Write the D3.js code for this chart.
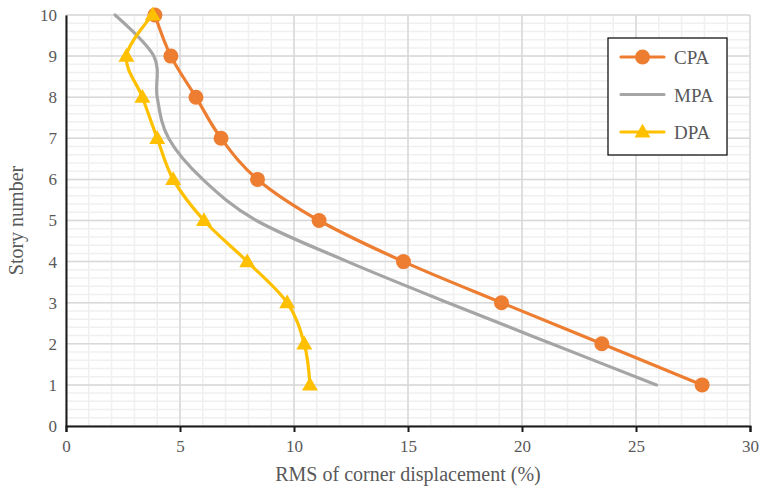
<!DOCTYPE html>
<html>
<head>
<meta charset="utf-8">
<script src="https://cdn.jsdelivr.net/npm/d3@7"></script>
<style>
  body { margin: 0; background: #fff; }
  svg, svg text { font-family: "Liberation Serif", "Times New Roman", serif; }
</style>
</head>
<body>
<div id="chart"></div>
<script>
// story numbers and RMS values (%)
var stories = [1, 2, 3, 4, 5, 6, 7, 8, 9, 10];
var cpa = [27.9, 23.5, 19.1, 14.8, 11.1, 8.4, 6.8, 5.7, 4.6, 3.9];
var mpa = [25.9, 21.3, 16.75, 12.35, 8.35, 6.0, 4.5, 4.0, 3.85, 2.15];
var dpa = [10.7, 10.45, 9.7, 7.95, 6.05, 4.7, 4.0, 3.35, 2.65, 3.8];
var xTicks = [0, 5, 10, 15, 20, 25, 30];
var yTicks = [0, 1, 2, 3, 4, 5, 6, 7, 8, 9, 10];

var series = [
    { name: "CPA", values: cpa, color: "#ED7D31", marker: "circle" },
    { name: "MPA", values: mpa, color: "#A5A5A5", marker: null },
    { name: "DPA", values: dpa, color: "#FFC000", marker: "triangle" }
];

var serif = "'Liberation Serif', 'Times New Roman', serif";
var width = 760, height = 491;
var margin = { top: 15, right: 10, bottom: 65, left: 66 };
var w = width - margin.left - margin.right;
var h = height - margin.top - margin.bottom;

var svg = d3.select("#chart").append("svg")
    .attr("width", width)
    .attr("height", height);
var g = svg.append("g")
    .attr("transform", "translate(" + margin.left + "," + margin.top + ")");

var x = d3.scaleLinear().domain([0, 30]).range([0, w]);
var y = d3.scaleLinear().domain([0, 10]).range([h, 0]);

// minor grid
g.append("g").selectAll("line")
    .data(d3.range(0, 30.01, 1))
    .enter().append("line")
    .attr("x1", function (d) { return x(d); }).attr("x2", function (d) { return x(d); })
    .attr("y1", 0).attr("y2", h)
    .attr("stroke", "#F0F0F0").attr("stroke-width", 1.5);
g.append("g").selectAll("line")
    .data(d3.range(0, 10.01, 0.2))
    .enter().append("line")
    .attr("y1", function (d) { return y(d); }).attr("y2", function (d) { return y(d); })
    .attr("x1", 0).attr("x2", w)
    .attr("stroke", "#F0F0F0").attr("stroke-width", 1.5);

// major grid
g.append("g").selectAll("line")
    .data(xTicks)
    .enter().append("line")
    .attr("x1", function (d) { return x(d); }).attr("x2", function (d) { return x(d); })
    .attr("y1", 0).attr("y2", h)
    .attr("stroke", "#D9D9D9").attr("stroke-width", 1.5);
g.append("g").selectAll("line")
    .data(yTicks)
    .enter().append("line")
    .attr("y1", function (d) { return y(d); }).attr("y2", function (d) { return y(d); })
    .attr("x1", 0).attr("x2", w)
    .attr("stroke", "#D9D9D9").attr("stroke-width", 1.5);

// axes
var xAxis = g.append("g")
    .attr("transform", "translate(0," + h + ")")
    .call(d3.axisBottom(x).tickValues(xTicks).tickSize(6).tickPadding(8));
var yAxis = g.append("g")
    .call(d3.axisLeft(y).tickValues(yTicks).tickSize(0).tickPadding(9));
[xAxis, yAxis].forEach(function (a) {
    a.attr("font-family", serif).attr("font-size", 17);
    a.select(".domain").attr("stroke", "#1a1a1a").attr("stroke-width", 2);
    a.selectAll(".tick line").attr("stroke", "#1a1a1a").attr("stroke-width", 2);
    a.selectAll("text").attr("fill", "#595959");
});

// lines
var line = d3.line()
    .x(function (d) { return x(d[0]); })
    .y(function (d) { return y(d[1]); })
    .curve(d3.curveCatmullRom.alpha(0));

var triangle = d3.symbol().type(d3.symbolTriangle).size(110);

series.forEach(function (s) {
    var pts = s.values.map(function (v, i) { return [v, stories[i]]; });
    g.append("path")
        .datum(pts)
        .attr("d", line)
        .attr("fill", "none")
        .attr("stroke", s.color)
        .attr("stroke-width", 3.2)
        .attr("stroke-linecap", "round");
    if (s.marker === "circle") {
        g.append("g").selectAll("circle")
            .data(pts).enter().append("circle")
            .attr("cx", function (d) { return x(d[0]); })
            .attr("cy", function (d) { return y(d[1]); })
            .attr("r", 7.5)
            .attr("fill", s.color);
    } else if (s.marker === "triangle") {
        g.append("g").selectAll("path")
            .data(pts).enter().append("path")
            .attr("d", triangle)
            .attr("transform", function (d) { return "translate(" + x(d[0]) + "," + (y(d[1]) + 1) + ")"; })
            .attr("fill", s.color);
    }
});

// axis titles
svg.append("text")
    .attr("x", margin.left + w / 2)
    .attr("y", 481)
    .attr("text-anchor", "middle")
    .attr("fill", "#595959")
    .attr("font-family", serif)
    .attr("font-size", 20)
    .text("RMS of corner displacement (%)");
svg.append("text")
    .attr("transform", "translate(23," + (margin.top + h / 2) + ") rotate(-90)")
    .attr("text-anchor", "middle")
    .attr("fill", "#595959")
    .attr("font-family", serif)
    .attr("font-size", 20)
    .text("Story number");

// legend
var legend = svg.append("g").attr("transform", "translate(608,38)");
legend.append("rect")
    .attr("width", 119).attr("height", 117)
    .attr("fill", "#fff").attr("stroke", "#000").attr("stroke-width", 1.2);
series.forEach(function (s, i) {
    var ly = 19 + i * 37.5;
    var row = legend.append("g").attr("transform", "translate(0," + ly + ")");
    row.append("line")
        .attr("x1", 13).attr("x2", 56)
        .attr("stroke", s.color).attr("stroke-width", 3.2).attr("stroke-linecap", "round");
    if (s.marker === "circle") {
        row.append("circle").attr("cx", 34.5).attr("r", 7.5).attr("fill", s.color);
    } else if (s.marker === "triangle") {
        row.append("path").attr("d", triangle)
            .attr("transform", "translate(34.5,1)").attr("fill", s.color);
    }
    row.append("text")
        .attr("x", 66).attr("y", 7)
        .attr("fill", "#595959")
        .attr("font-family", serif)
        .attr("font-size", 19)
        .text(s.name);
});
</script>
</body>
</html>
